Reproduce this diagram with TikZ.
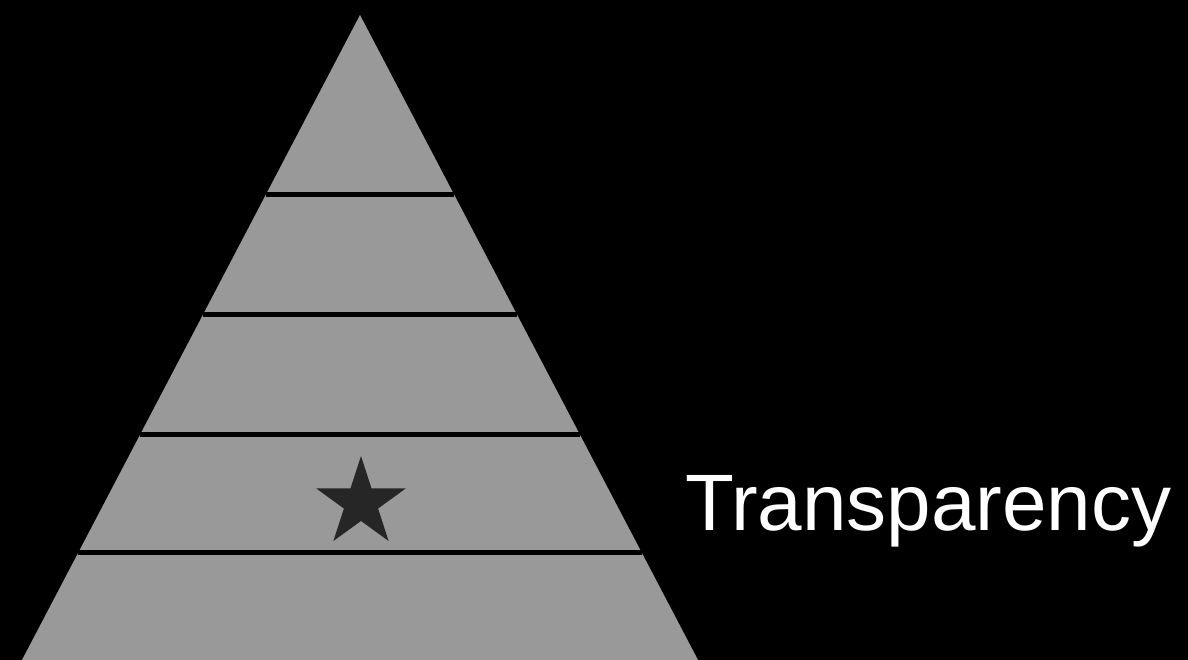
\documentclass[tikz,border=0pt]{standalone}
\usepackage{fontspec}
\setmainfont{Liberation Sans}
\usetikzlibrary{shapes.geometric, calc}

\begin{document}
\begin{tikzpicture}[
    x=1pt, y=-1pt,
    band/.style={fill=black!40, draw=none},
    sep/.style={draw=black, line width=5pt},
    starshape/.style={star, star points=5, star point ratio=2.618, fill=black!85, draw=none, inner sep=0pt, minimum size=94pt},
    title/.style={text=white, anchor=base west, inner sep=0pt, font=\fontsize{80}{96}\selectfont}
]
    % background and frame
    \fill[black] (0,0) rectangle (1188,660);
    \useasboundingbox (0,0) rectangle (1188,660);
    \clip (0,0) rectangle (1188,660);

    \coordinate (apex) at (360,15);
    \coordinate (bl) at (22,660);
    \coordinate (br) at (698,660);

    \fill[band] (apex) -- (bl) -- (br) -- cycle;

    % separators between the layers
    \foreach \t in {0.279, 0.465, 0.650, 0.834} {
        \draw[sep] ($(apex)!\t!(bl)$) -- ($(apex)!\t!(br)$);
    }

    \node[starshape] (starmark) at (361,503) {};

    \node[title] (name) at (685,530) {Transparency};
\end{tikzpicture}
\end{document}
